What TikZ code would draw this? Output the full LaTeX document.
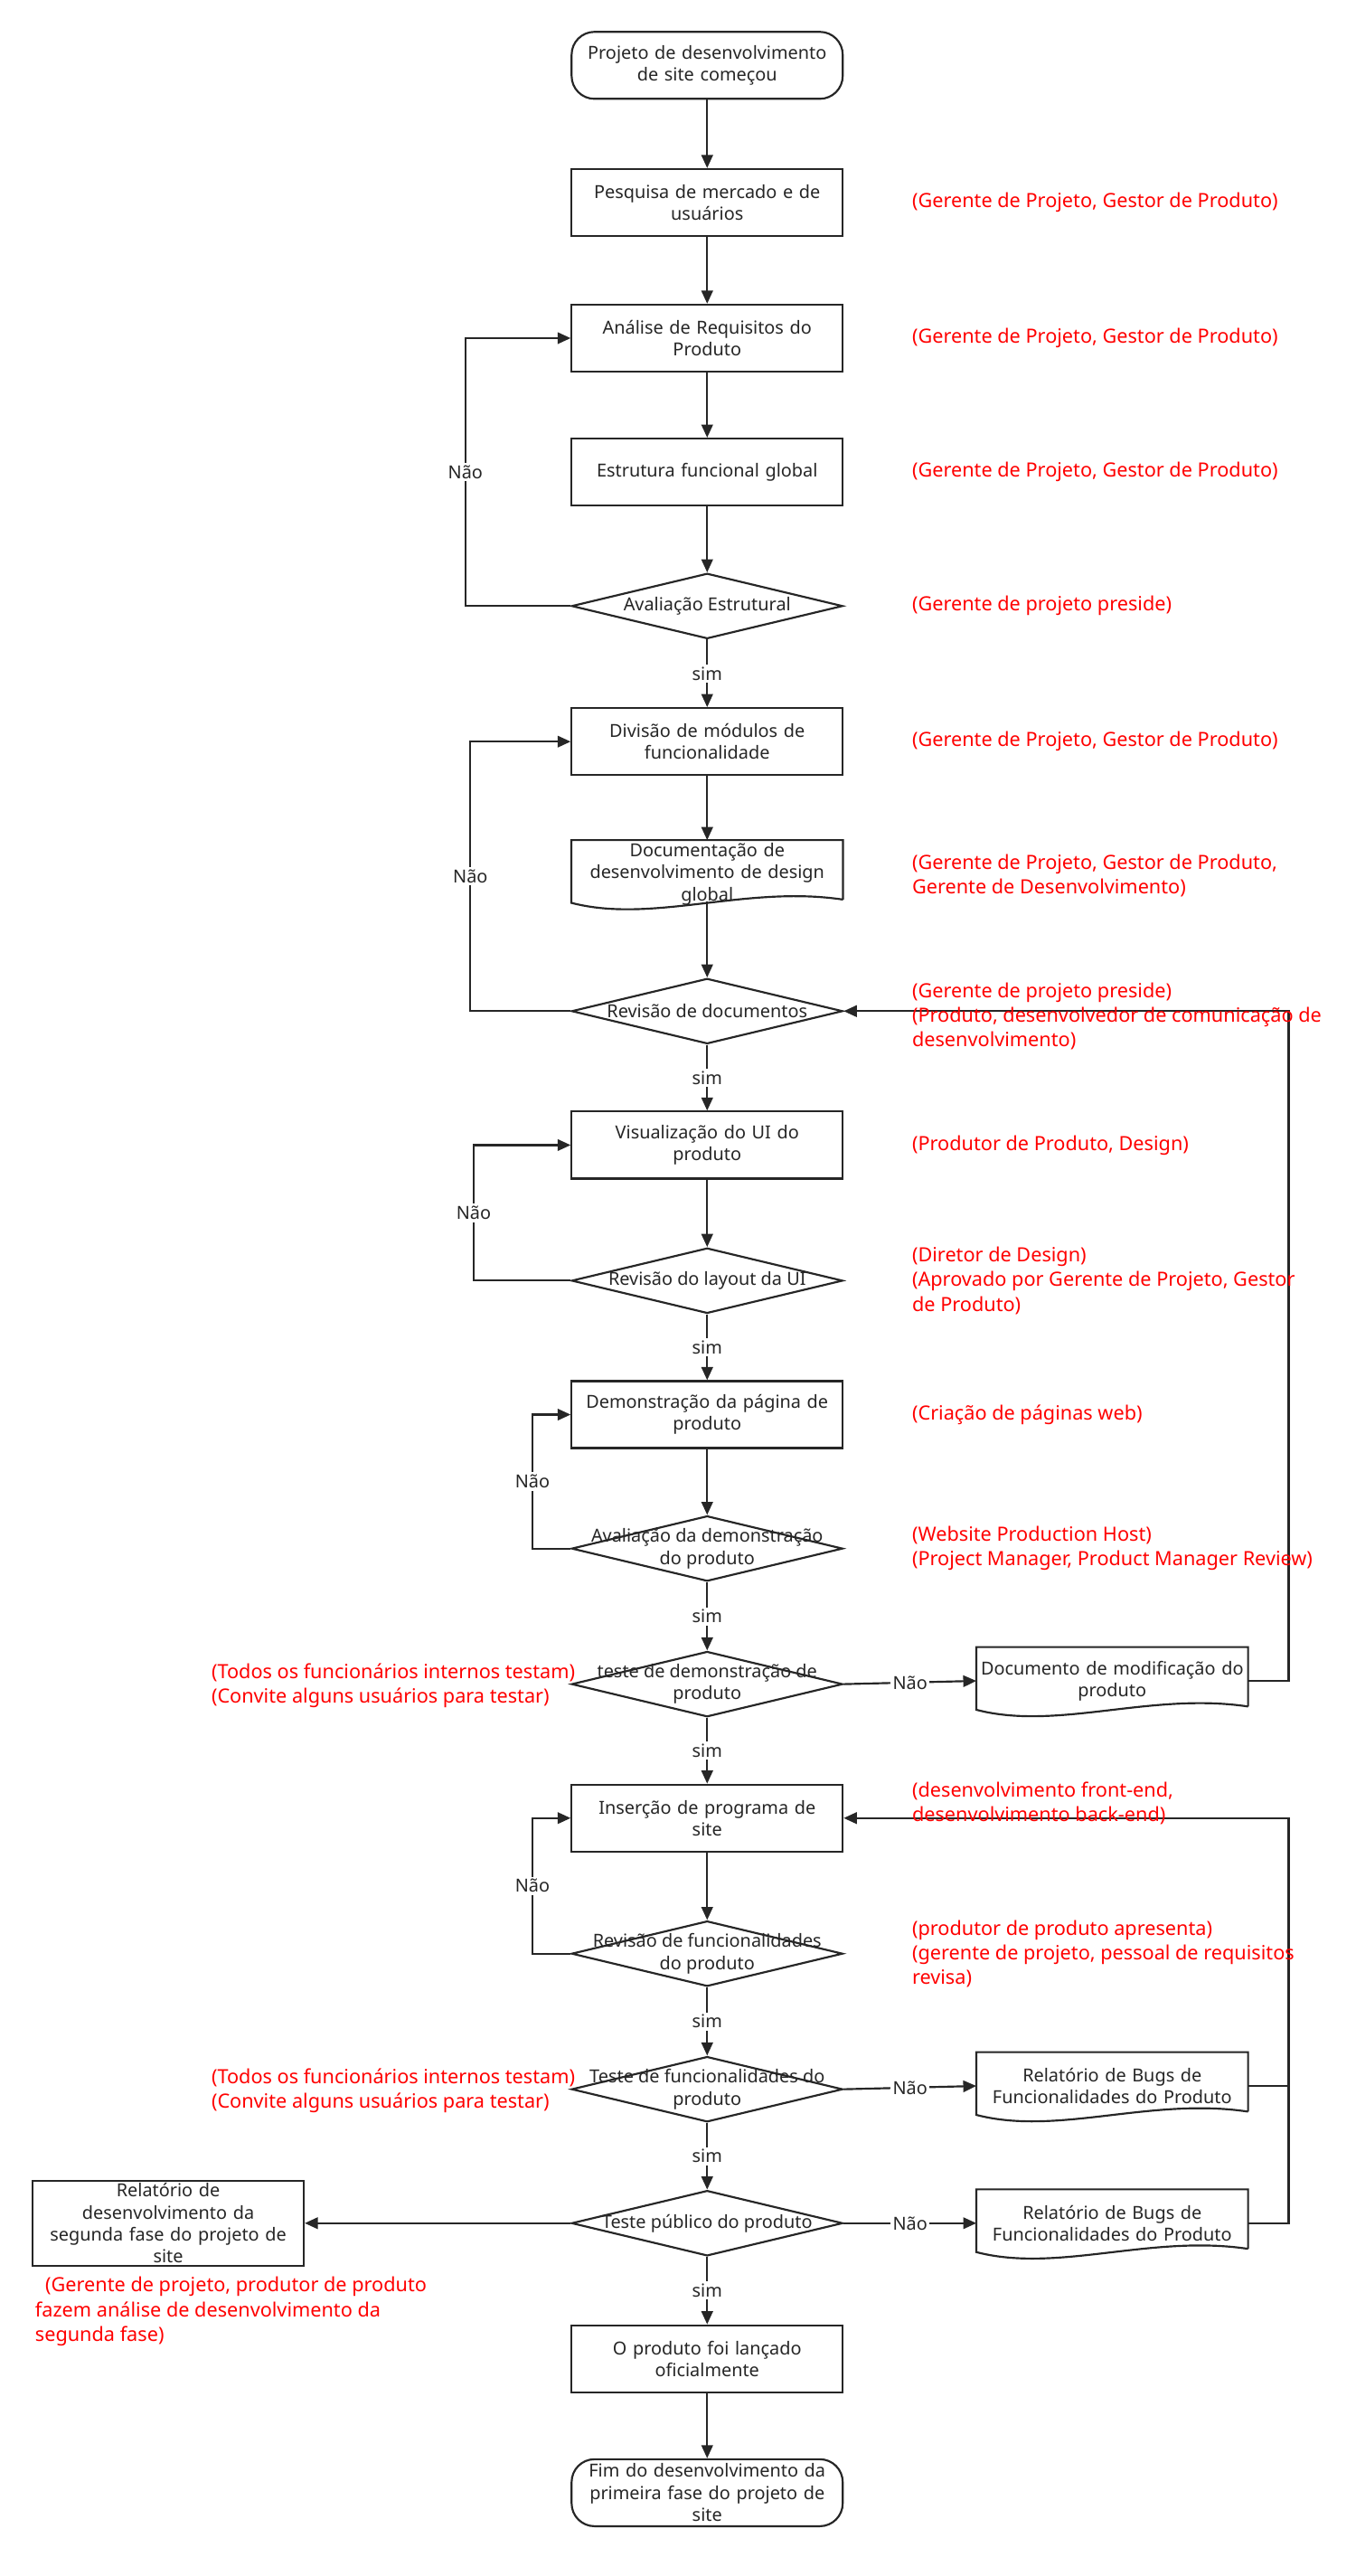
\documentclass[tikz,border=0pt]{standalone}
\usepackage{fontspec}
\setmainfont{Noto Sans}
\usetikzlibrary{shapes.geometric,arrows.meta,calc}
\begin{document}
\begin{tikzpicture}[x=1pt,y=-1pt,
  every node/.style={font=\fontsize{11}{13.5}\selectfont,text=black!85},
  box/.style={draw=black!85,line width=1.2pt,minimum width=166pt,minimum height=41pt,align=center,text width=160pt,inner sep=1pt},
  term/.style={box,rounded corners=14pt},
  doc/.style={minimum width=166pt,minimum height=41pt,align=center,text width=162pt,inner sep=1pt},
  dia/.style={draw=black!85,line width=1.2pt,diamond,aspect=4.15,minimum width=166pt,minimum height=40pt,inner sep=0pt,
     label={[align=center,font=\fontsize{11}{13.5}\selectfont,text=black!85]center:#1}},
  ann/.style={anchor=west,align=left,text=red,font=\fontsize{12}{15}\selectfont},
  arr/.style={draw=black!85,line width=1.2pt,-{Triangle[length=8pt,width=7pt]}},
  ln/.style={draw=black!85,line width=1.2pt},
  lab/.style={fill=white,inner sep=1.5pt,font=\fontsize{11}{13}\selectfont}]
\useasboundingbox (0,0) rectangle (830,1577);
\fill[white] (0,0) rectangle (830,1577);
\newcommand{\docshape}[1]{\draw[line width=1.2pt,draw=black!85] ($(#1.south east)+(0,-5)$) -- (#1.north east) -- (#1.north west) -- ($(#1.south west)+(0,-3)$) .. controls ($(#1.south west)+(50,10)$) and ($(#1.south east)+(-60,-14)$) .. ($(#1.south east)+(0,-5)$);}
% main column
\node[term] (s) at (433,40) {Projeto de desenvolvimento\\de site começou};
\node[box] (p) at (433,124) {Pesquisa de mercado e de\\usuários};
\node[box] (a) at (433,207) {Análise de Requisitos do\\Produto};
\node[box] (e) at (433,289) {Estrutura funcional global};
\node[dia={Avaliação Estrutural}] (d1) at (433,371) {};
\node[box] (dv) at (433,454) {Divisão de módulos de\\funcionalidade};
\node[doc,minimum width=166pt,text width=150pt] (dc) at (433,535) {Documentação de\\desenvolvimento de design\\global};
\docshape{dc}
\node[dia={Revisão de documentos}] (d2) at (433,619) {};
\node[box] (v) at (433,701) {Visualização do UI do\\produto};
\node[dia={Revisão do layout da UI}] (d3) at (433,784) {};
\node[box] (dm) at (433,866) {Demonstração da página de\\produto};
\node[dia={Avaliação da demonstração\\do produto}] (d4) at (433,948) {};
\node[dia={teste de demonstração de\\produto}] (d5) at (433,1031) {};
\node[box] (i) at (433,1113) {Inserção de programa de\\site};
\node[dia={Revisão de funcionalidades\\do produto}] (d6) at (433,1196) {};
\node[dia={Teste de funcionalidades do\\produto}] (d7) at (433,1279) {};
\node[dia={Teste público do produto}] (d8) at (433,1361) {};
\node[box] (l) at (433,1444) {O produto foi lançado\\oficialmente};
\node[term] (f) at (433,1526) {Fim do desenvolvimento da\\primeira fase do projeto de\\site};
% side
\node[doc] (md) at (681,1029) {Documento de modificação do\\produto};
\docshape{md}
\node[doc] (b1) at (681,1277) {Relatório de Bugs de\\Funcionalidades do Produto};
\docshape{b1}
\node[doc] (b2) at (681,1361) {Relatório de Bugs de\\Funcionalidades do Produto};
\docshape{b2}
\node[box,minimum height=52pt] (r) at (103,1361) {Relatório de\\desenvolvimento da\\segunda fase do projeto de\\site};
% main arrows
\draw[arr] (s) -- (p);
\draw[arr] (p) -- (a);
\draw[arr] (a) -- (e);
\draw[arr] (e) -- (d1);
\draw[arr] (d1) -- node[lab]{sim} (dv);
\draw[arr] (dv) -- (dc);
\draw[arr] ($(dc.south)+(0,-4)$) -- (d2);
\draw[arr] (d2) -- node[lab]{sim} (v);
\draw[arr] (v) -- (d3);
\draw[arr] (d3) -- node[lab]{sim} (dm);
\draw[arr] (dm) -- (d4);
\draw[arr] (d4) -- node[lab]{sim} (d5);
\draw[arr] (d5) -- node[lab]{sim} (i);
\draw[arr] (i) -- (d6);
\draw[arr] (d6) -- node[lab]{sim} (d7);
\draw[arr] (d7) -- node[lab]{sim} (d8);
\draw[arr] (d8) -- node[lab]{sim} (l);
\draw[arr] (l) -- (f);
% loops left
\coordinate (c1) at (285,371); \coordinate (c1t) at (285,207);
\draw[arr] (d1.west) -- (c1) -- node[lab]{Não} (c1t) -- (a.west);
\coordinate (c2) at (288,619); \coordinate (c2t) at (288,454);
\draw[arr] (d2.west) -- (c2) -- node[lab]{Não} (c2t) -- (dv.west);
\coordinate (c3) at (290,784); \coordinate (c3t) at (290,701);
\draw[arr] (d3.west) -- (c3) -- node[lab]{Não} (c3t) -- (v.west);
\coordinate (c4) at (326,948); \coordinate (c4t) at (326,866);
\draw[arr] (d4.west) -- (c4) -- node[lab]{Não} (c4t) -- (dm.west);
\coordinate (c5) at (326,1196); \coordinate (c5t) at (326,1113);
\draw[arr] (d6.west) -- (c5) -- node[lab]{Não} (c5t) -- (i.west);
% right
\draw[arr] (d5.east) -- node[lab]{Não} (md.west);
\draw[arr] (d7.east) -- node[lab]{Não} (b1.west);
\draw[arr] (d8.east) -- node[lab]{Não} (b2.west);
\draw[arr] (d8.west) -- (r.east);
\coordinate (m1) at (789,1029); \coordinate (m1t) at (789,619);
\draw[arr] (md.east) -- (m1) -- (m1t) -- (d2.east);
\coordinate (m2) at (789,1277); \coordinate (m3) at (789,1361); \coordinate (m3t) at (789,1113);
\draw[ln] (b1.east) -- (m2);
\draw[arr] (b2.east) -- (m3) -- (m3t) -- (i.east);
% annotations
\node[ann] at (555,124) {(Gerente de Projeto, Gestor de Produto)};
\node[ann] at (555,207) {(Gerente de Projeto, Gestor de Produto)};
\node[ann] at (555,289) {(Gerente de Projeto, Gestor de Produto)};
\node[ann] at (555,371) {(Gerente de projeto preside)};
\node[ann] at (555,454) {(Gerente de Projeto, Gestor de Produto)};
\node[ann] at (555,536) {(Gerente de Projeto, Gestor de Produto,\\Gerente de Desenvolvimento)};
\node[ann] at (555,622) {(Gerente de projeto preside)\\(Produto, desenvolvedor de comunicação de\\desenvolvimento)};
\node[ann] at (555,701) {(Produtor de Produto, Design)};
\node[ann] at (555,784) {(Diretor de Design)\\(Aprovado por Gerente de Projeto, Gestor\\de Produto)};
\node[ann] at (555,866) {(Criação de páginas web)};
\node[ann] at (555,948) {(Website Production Host)\\(Project Manager, Product Manager Review)};
\node[ann] at (555,1104) {(desenvolvimento front-end,\\desenvolvimento back-end)};
\node[ann] at (555,1196) {(produtor de produto apresenta)\\(gerente de projeto, pessoal de requisitos\\revisa)};
\node[ann] at (126,1032) {(Todos os funcionários internos testam)\\(Convite alguns usuários para testar)};
\node[ann] at (126,1280) {(Todos os funcionários internos testam)\\(Convite alguns usuários para testar)};
\node[ann] at (18,1415) {\ \ (Gerente de projeto, produtor de produto\\fazem análise de desenvolvimento da\\segunda fase)};
\end{tikzpicture}
\end{document}
